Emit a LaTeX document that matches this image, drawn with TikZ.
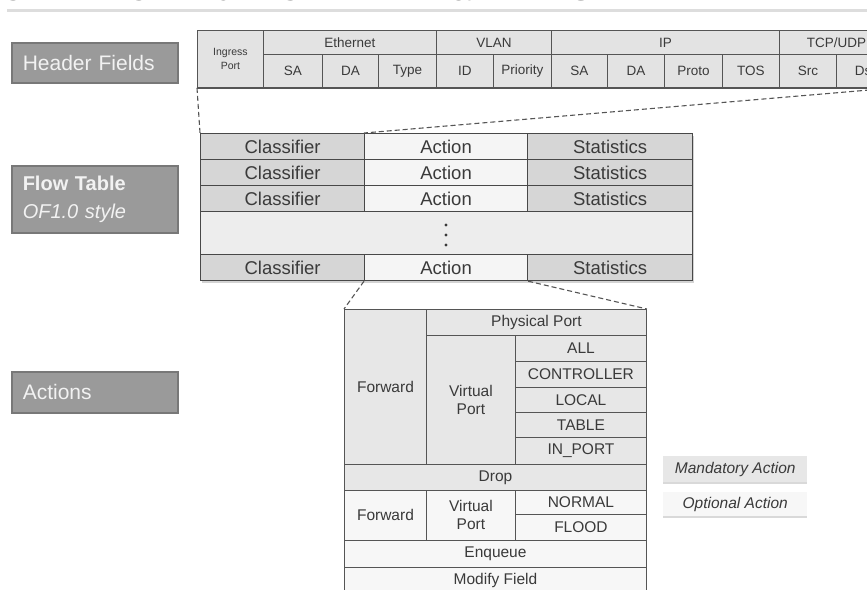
\documentclass[tikz,border=0pt]{standalone}
\usepackage{fontspec}
\setmainfont{Liberation Sans}
\usetikzlibrary{shadows}

\definecolor{linec}{HTML}{555555}
\definecolor{textc}{HTML}{3A3A3A}
\definecolor{titlec}{HTML}{333333}
\definecolor{rulec}{HTML}{DDDDDD}
\definecolor{hdrfill}{HTML}{E3E3E3}
\definecolor{clsfill}{HTML}{D6D6D6}
\definecolor{actfill}{HTML}{F5F5F5}
\definecolor{gapfill}{HTML}{EDEDED}
\definecolor{mandfill}{HTML}{E7E7E7}
\definecolor{optfill}{HTML}{F7F7F7}
\definecolor{lblfill}{HTML}{9A9A9A}
\definecolor{lbledge}{HTML}{787878}

\tikzset{
  cell/.style={draw=linec, line width=0.9pt, inner sep=0pt, anchor=north west, text=textc, align=center},
  hcell/.style={cell, fill=hdrfill, font=\fontsize{13.5}{14}\selectfont},
  fcell/.style={cell, draw=linec!85!black, line width=1.2pt, minimum height=26,
    font=\fontsize{18.5}{20}\selectfont,
    drop shadow={shadow xshift=1.5pt, shadow yshift=-2pt, opacity=0.35}},
  mand/.style={cell, fill=mandfill, font=\fontsize{15.5}{18}\selectfont},
  opt/.style={cell, fill=optfill, font=\fontsize{15.5}{18}\selectfont},
  lbl/.style={draw=lbledge, fill=lblfill, line width=1.5pt, anchor=north west,
    inner xsep=11pt, inner ysep=0pt, text width=144pt, align=left, text=white!95!black,
    font=\fontsize{21}{24}\selectfont,
    drop shadow={shadow xshift=1pt, shadow yshift=-1pt, opacity=0.25}},
  key/.style={anchor=north west, inner sep=0pt, minimum width=144, text=textc,
    font=\itshape\fontsize{15.5}{18}\selectfont,
    drop shadow={shadow xshift=0pt, shadow yshift=-2pt, opacity=0.3}},
  zoomline/.style={draw=linec, line width=1.1pt, dash pattern=on 5pt off 3pt}
}

\begin{document}
\begin{tikzpicture}[x=1pt, y=-1pt]
    \useasboundingbox (0,0) rectangle (867,589);
    \clip (0,0) rectangle (867,589);
    \node[anchor=base west, inner sep=0pt, text=titlec, font=\bfseries\fontsize{31}{31}\selectfont] (title) at (1,0) {OPENFLOW 1.0 FLOW TABLE \& FIELDS};
    \draw[rulec, line width=3pt] (7,10) -- (867,10);

    \node[lbl, minimum height=40] (hfields) at (11,42) {Header Fields};
    \node[lbl, minimum height=67, font=\fontsize{20}{28}\selectfont] (ftable) at (11,165) {\textbf{Flow Table}\\\textit{OF1.0 style}};
    \node[lbl, minimum height=41] (actions) at (11,371) {Actions};

    \node[hcell, minimum width=66, minimum height=57, font=\fontsize{10.5}{14}\selectfont] (ingress) at (197,30) {Ingress\\Port};
    \node[hcell, minimum width=173, minimum height=24] (eth) at (263,30) {Ethernet};
    \node[hcell, minimum width=115, minimum height=24] (vlan) at (436,30) {VLAN};
    \node[hcell, minimum width=228, minimum height=24] (ip) at (551,30) {IP};
    \node[hcell, minimum width=114, minimum height=24] (tcpudp) at (779,30) {TCP/UDP};
    \node[hcell, minimum width=59, minimum height=33] (esa) at (263,54) {SA};
    \node[hcell, minimum width=56, minimum height=33] (eda) at (322,54) {DA};
    \node[hcell, minimum width=58, minimum height=33] (etype) at (378,54) {Type};
    \node[hcell, minimum width=57, minimum height=33] (vid) at (436,54) {ID};
    \node[hcell, minimum width=58, minimum height=33] (vprio) at (493,54) {Priority};
    \node[hcell, minimum width=56, minimum height=33] (isa) at (551,54) {SA};
    \node[hcell, minimum width=57, minimum height=33] (ida) at (607,54) {DA};
    \node[hcell, minimum width=58, minimum height=33] (iproto) at (664,54) {Proto};
    \node[hcell, minimum width=57, minimum height=33] (itos) at (722,54) {TOS};
    \node[hcell, minimum width=57, minimum height=33] (tsrc) at (779,54) {Src};
    \node[hcell, minimum width=57, minimum height=33] (tdst) at (836,54) {Dst};
    \draw[linec, line width=2pt] (ingress.south west) -- (tdst.south east);

    \node[fcell, fill=clsfill, minimum width=164] (c1) at (200,133) {Classifier};
    \node[fcell, fill=actfill, minimum width=163] (a1) at (364,133) {Action};
    \node[fcell, fill=clsfill, minimum width=165] (s1) at (527,133) {Statistics};
    \node[fcell, fill=clsfill, minimum width=164] (c2) at (200,159) {Classifier};
    \node[fcell, fill=actfill, minimum width=163] (a2) at (364,159) {Action};
    \node[fcell, fill=clsfill, minimum width=165] (s2) at (527,159) {Statistics};
    \node[fcell, fill=clsfill, minimum width=164] (c3) at (200,185) {Classifier};
    \node[fcell, fill=actfill, minimum width=163] (a3) at (364,185) {Action};
    \node[fcell, fill=clsfill, minimum width=165] (s3) at (527,185) {Statistics};
    \node[fcell, fill=gapfill, minimum width=492, minimum height=43] (gap) at (200,211) {};
    \foreach \y in {225,235,245}
        \fill[textc] (446,\y) circle (1.6);
    \node[fcell, fill=clsfill, minimum width=164] (c4) at (200,254) {Classifier};
    \node[fcell, fill=actfill, minimum width=163] (a4) at (364,254) {Action};
    \node[fcell, fill=clsfill, minimum width=165] (s4) at (527,254) {Statistics};

    \node[mand, minimum width=82, minimum height=155] (fwd) at (344,309) {Forward};
    \node[mand, minimum width=220, minimum height=26] (phys) at (426,309) {Physical Port};
    \node[mand, minimum width=89, minimum height=129] (vport) at (426,335) {Virtual\\Port};
    \node[mand, minimum width=131, minimum height=26] (all) at (515,335) {ALL};
    \node[mand, minimum width=131, minimum height=26] (ctrl) at (515,361) {CONTROLLER};
    \node[mand, minimum width=131, minimum height=25] (local) at (515,387) {LOCAL};
    \node[mand, minimum width=131, minimum height=25] (tbl) at (515,412) {TABLE};
    \node[mand, minimum width=131, minimum height=27] (inport) at (515,437) {IN\_PORT};
    \node[mand, minimum width=302, minimum height=26] (drop) at (344,464) {Drop};
    \node[opt, minimum width=82, minimum height=50] (fwdopt) at (344,490) {Forward};
    \node[opt, minimum width=89, minimum height=50] (vportopt) at (426,490) {Virtual\\Port};
    \node[opt, minimum width=131, minimum height=24] (normal) at (515,490) {NORMAL};
    \node[opt, minimum width=131, minimum height=26] (flood) at (515,514) {FLOOD};
    \node[opt, minimum width=302, minimum height=27] (enq) at (344,540) {Enqueue};
    \node[opt, minimum width=302, minimum height=27] (modify) at (344,567) {Modify Field};

    \node[key, fill=mandfill, minimum height=26] (keymand) at (663,456) {Mandatory Action};
    \node[key, fill=optfill, minimum height=24] (keyopt) at (663,492) {Optional Action};

    \draw[zoomline] (ingress.south west) -- (c1.north west);
    \draw[zoomline] (tdst.south east) -- (a1.north west);
    \draw[zoomline] (a4.south west) -- (fwd.north west);
    \draw[zoomline] (a4.south east) -- (phys.north east);
\end{tikzpicture}
\end{document}
